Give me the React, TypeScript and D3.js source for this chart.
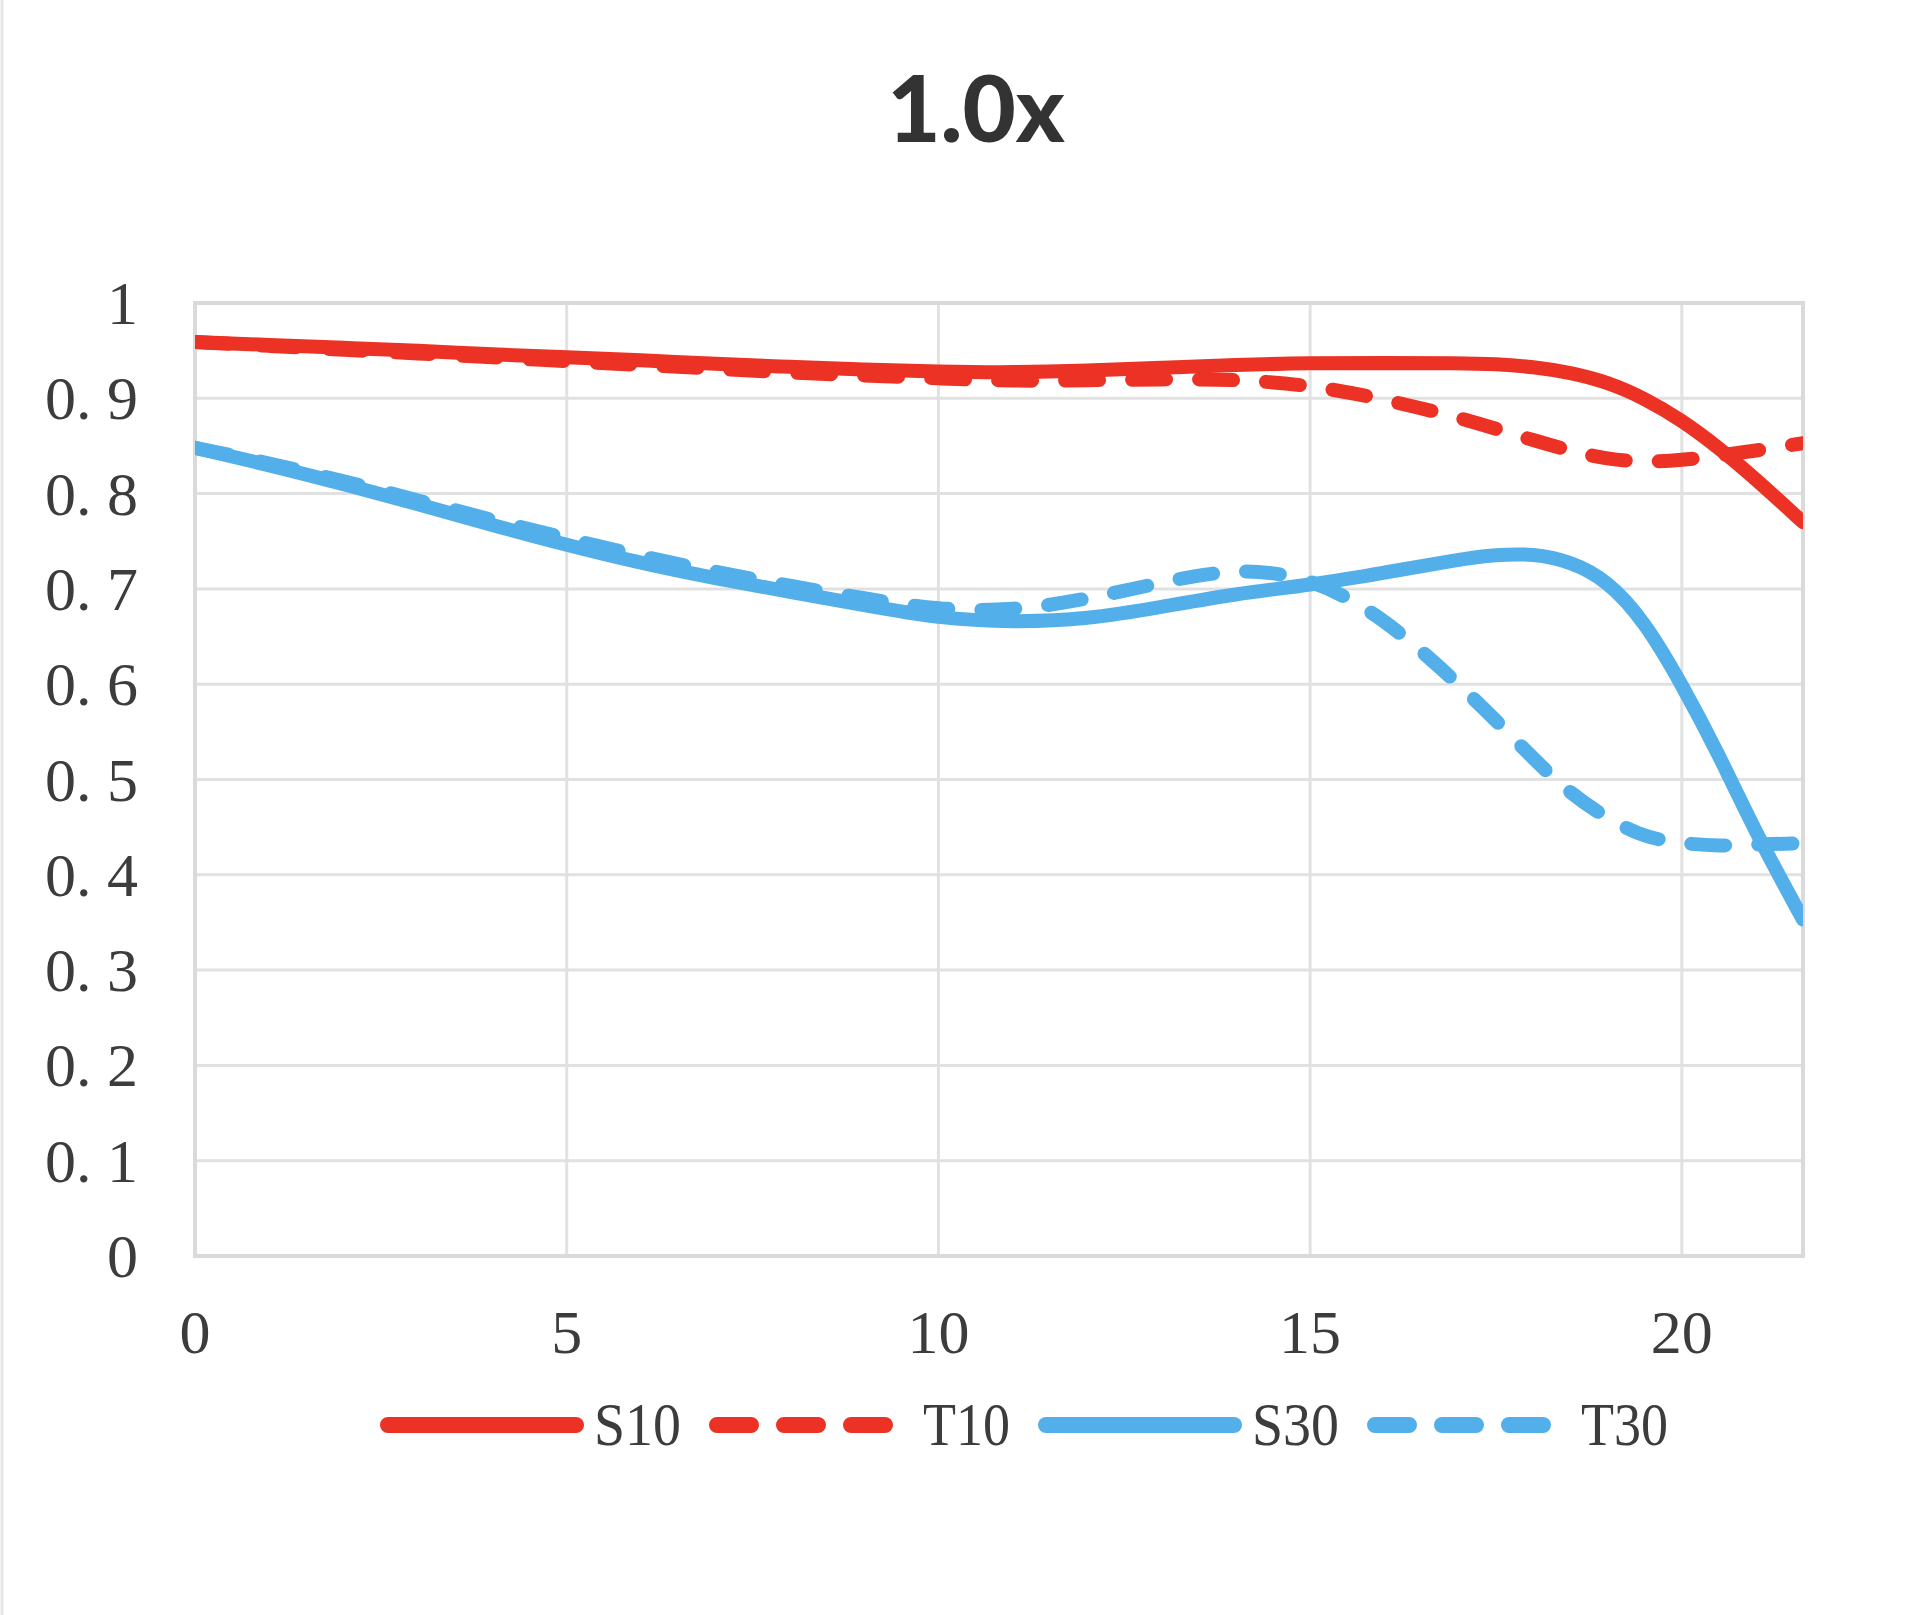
import React, { useEffect, useRef } from 'react';
import * as d3 from 'd3';

// image height (mm) and MTF values
const fieldPos = [0, 1, 2, 3, 4, 5, 6, 7, 8, 9, 10, 11, 12, 13, 14, 15, 16, 17, 17.5, 18, 18.5, 19, 19.5, 20, 20.5, 21, 21.63];
const s10 = [0.959, 0.956, 0.953, 0.950, 0.946, 0.943, 0.940, 0.936, 0.933, 0.930, 0.928, 0.927, 0.929, 0.932, 0.935, 0.937, 0.937, 0.937, 0.936, 0.933, 0.927, 0.917, 0.900, 0.877, 0.848, 0.815, 0.770];
const t10 = [0.959, 0.955, 0.951, 0.947, 0.943, 0.939, 0.935, 0.931, 0.927, 0.924, 0.921, 0.918, 0.919, 0.920, 0.920, 0.914, 0.899, 0.880, 0.868, 0.856, 0.845, 0.836, 0.833, 0.835, 0.840, 0.845, 0.853];
const s30 = [0.848, 0.830, 0.810, 0.789, 0.767, 0.746, 0.727, 0.711, 0.697, 0.683, 0.669, 0.665, 0.668, 0.681, 0.695, 0.704, 0.717, 0.731, 0.736, 0.737, 0.729, 0.709, 0.666, 0.600, 0.526, 0.443, 0.353];
const t30 = [0.848, 0.832, 0.813, 0.793, 0.772, 0.753, 0.734, 0.718, 0.703, 0.690, 0.678, 0.677, 0.689, 0.707, 0.722, 0.713, 0.670, 0.600, 0.562, 0.522, 0.485, 0.459, 0.439, 0.433, 0.430, 0.432, 0.433];

const seriesNames = ['S10', 'T10', 'S30', 'T30'];
const seriesColors = ['#ec3224', '#ec3224', '#52afea', '#52afea'];
const seriesDashed = [false, true, false, true];
const seriesValues = [s10, t10, s30, t30];

const xTicks = [0, 5, 10, 15, 20];
const yTicks = [0, 0.1, 0.2, 0.3, 0.4, 0.5, 0.6, 0.7, 0.8, 0.9, 1];
const title = '1.0x';

const App: React.FC = () => {
  const svgRef = useRef<SVGSVGElement>(null);

  useEffect(() => {
    if (!svgRef.current) return;
    const svg = d3.select(svgRef.current);
    svg.selectAll('*').remove();

    const width = 1920;
    const height = 1615;
    const left = 195, right = 1803, top = 303, bottom = 1256;

    svg.append('rect').attr('width', width).attr('height', height).attr('fill', '#fff');
    // faint frame edge on the left side of the picture
    svg.append('line')
      .attr('x1', 2).attr('x2', 2).attr('y1', 0).attr('y2', height)
      .attr('stroke', '#e6e6e6').attr('stroke-width', 3);

    const x = d3.scaleLinear().domain([0, 21.63]).range([left, right]);
    const y = d3.scaleLinear().domain([0, 1]).range([bottom, top]);

    // title
    svg.append('text')
      .attr('x', 976).attr('y', 142)
      .attr('text-anchor', 'middle')
      .attr('font-family', 'Lato, "Open Sans", sans-serif')
      .attr('font-weight', 900)
      .attr('font-size', 92)
      .attr('fill', '#333')
      .text(title);

    const grid = svg.append('g');
    grid.selectAll('line.h')
      .data(yTicks.slice(1, -1))
      .join('line')
      .attr('x1', left).attr('x2', right)
      .attr('y1', d => y(d)).attr('y2', d => y(d))
      .attr('stroke', '#e1e1e1').attr('stroke-width', 3);
    grid.selectAll('line.v')
      .data(xTicks.slice(1))
      .join('line')
      .attr('x1', d => x(d)).attr('x2', d => x(d))
      .attr('y1', top).attr('y2', bottom)
      .attr('stroke', '#e1e1e1').attr('stroke-width', 3);
    grid.append('rect')
      .attr('x', left).attr('y', top)
      .attr('width', right - left).attr('height', bottom - top)
      .attr('fill', 'none').attr('stroke', '#dadada').attr('stroke-width', 4);

    const tickFont = '"Liberation Serif", "DejaVu Serif", serif';
    const fmt = (d: number) => (d === 0 || d === 1 ? String(d) : `0. ${Math.round(d * 10)}`);

    svg.append('g').selectAll('text')
      .data(yTicks)
      .join('text')
      .attr('x', 138)
      .attr('y', d => y(d) + 21)
      .attr('text-anchor', 'end')
      .attr('font-family', tickFont)
      .attr('font-size', 62)
      .attr('fill', '#3c3c3c')
      .text(d => fmt(d));

    svg.append('g').selectAll('text')
      .data(xTicks)
      .join('text')
      .attr('x', d => x(d))
      .attr('y', 1353)
      .attr('text-anchor', 'middle')
      .attr('font-family', tickFont)
      .attr('font-size', 62)
      .attr('fill', '#3c3c3c')
      .text(d => String(d));

    svg.append('clipPath').attr('id', 'plot-clip')
      .append('rect')
      .attr('x', left).attr('y', 0)
      .attr('width', right - left).attr('height', height);

    const line = d3.line<[number, number]>()
      .x(d => x(d[0]))
      .y(d => y(d[1]))
      .curve(d3.curveBasis);

    const lines = svg.append('g').attr('clip-path', 'url(#plot-clip)');
    seriesValues.forEach((vals, i) => {
      const pts = fieldPos.map((p, j) => [p, vals[j]] as [number, number]);
      lines.append('path')
        .attr('d', line(pts) as string)
        .attr('fill', 'none')
        .attr('stroke', seriesColors[i])
        .attr('stroke-width', 14)
        .attr('stroke-linecap', 'round')
        .attr('stroke-linejoin', 'round')
        .attr('stroke-dasharray', seriesDashed[i] ? '34 33' : null);
    });

    // legend
    const legend = svg.append('g');
    let lx = 380;
    const ly = 1425;
    seriesNames.forEach((name, i) => {
      legend.append('line')
        .attr('x1', lx + 8).attr('x2', lx + 196)
        .attr('y1', ly).attr('y2', ly)
        .attr('stroke', seriesColors[i])
        .attr('stroke-width', 16)
        .attr('stroke-linecap', 'round')
        .attr('stroke-dasharray', seriesDashed[i] ? '34 33' : null);
      legend.append('text')
        .attr('x', lx + 214)
        .attr('y', 1445)
        .attr('font-family', tickFont)
        .attr('font-size', 62)
        .attr('textLength', 87)
        .attr('lengthAdjust', 'spacingAndGlyphs')
        .attr('fill', '#3c3c3c')
        .text(name);
      lx = lx + 214 + 87 + 28;
    });
  }, []);

  return (
    <div style={{ position: 'absolute', left: 0, top: 0 }}>
      <svg ref={svgRef} width="1920" height="1615" viewBox="0 0 1920 1615" />
    </div>
  );
};

export default App;
